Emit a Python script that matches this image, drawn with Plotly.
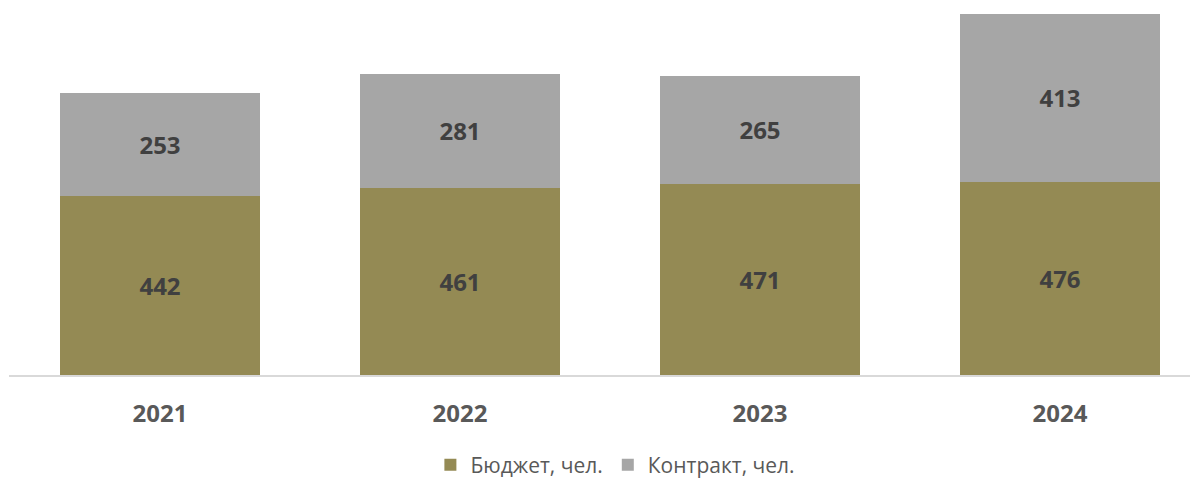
import plotly.graph_objects as go

# данные
years = ["2021", "2022", "2023", "2024"]
budget = [442, 461, 471, 476]
contract = [253, 281, 265, 413]

fig = go.Figure()
fig.add_trace(go.Bar(x=years, y=budget, name="Бюджет, чел.",
                     marker=dict(color="#948A54", line=dict(width=0)),
                     text=budget, textposition="inside", insidetextanchor="middle",
                     textfont=dict(family="Open Sans", size=24, color="#404040")))
fig.add_trace(go.Bar(x=years, y=contract, name="Контракт, чел.",
                     marker=dict(color="#A6A6A6", line=dict(width=0)),
                     text=contract, textposition="inside", insidetextanchor="middle",
                     textfont=dict(family="Open Sans", size=24, color="#404040")))

fig.update_traces(texttemplate="<b>%{text}</b>", width=0.667)

# страница рисуется со смещением 8px (отступ body), поэтому поля подогнаны
fig.update_layout(
    barmode="stack",
    width=1198, height=479,
    margin=dict(l=1, r=8, t=6, b=112),
    plot_bgcolor="white", paper_bgcolor="white",
    font=dict(family="Open Sans", color="#595959"),
    showlegend=True,
    legend=dict(orientation="h", x=0.51, xanchor="center", y=-0.193, yanchor="top",
                font=dict(size=21, color="#595959"), traceorder="normal"),
    uniformtext=dict(mode="show", minsize=10),
)
fig.update_xaxes(type="category", range=[-0.5033, 3.46], showline=True, linecolor="#D9D9D9",
                 linewidth=1.5, ticks="", tickfont=dict(size=24, color="#595959"),
                 tickprefix="<b>", ticksuffix="</b>", ticklabelstandoff=16)
fig.update_yaxes(range=[0, 889], visible=False, showgrid=False)

fig.write_html("out.html")
